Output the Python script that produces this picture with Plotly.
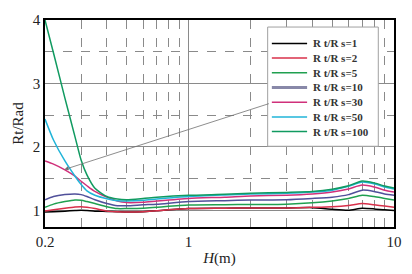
import math
import plotly.graph_objects as go

H = [0.2, 0.22, 0.25, 0.28, 0.3, 0.32, 0.35, 0.4, 0.45, 0.5, 0.6, 0.7, 1, 1.5, 2, 3, 4, 5, 6, 7, 8, 9, 10]

rs1 = [0.975, 0.98, 0.99, 1.0, 1.005, 1.0, 0.99, 0.985, 0.98, 0.975, 0.98, 0.995, 1.03, 1.035, 1.04, 1.04, 1.045, 1.02, 1.005, 1.035, 1.025, 1.01, 1.0]
rs2 = [0.99, 1.01, 1.035, 1.055, 1.06, 1.05, 1.03, 0.99, 0.98, 0.975, 0.98, 0.995, 1.03, 1.035, 1.04, 1.04, 1.05, 1.06, 1.08, 1.11, 1.09, 1.07, 1.05]
rs5 = [1.05, 1.1, 1.14, 1.165, 1.16, 1.14, 1.11, 1.06, 1.03, 1.03, 1.035, 1.05, 1.085, 1.09, 1.095, 1.1, 1.12, 1.15, 1.19, 1.24, 1.22, 1.19, 1.165]
rs10 = [1.17, 1.22, 1.25, 1.26, 1.25, 1.22, 1.17, 1.11, 1.075, 1.075, 1.09, 1.1, 1.14, 1.155, 1.165, 1.17, 1.19, 1.21, 1.25, 1.32, 1.3, 1.26, 1.24]
rs30 = [1.78, 1.73, 1.64, 1.54, 1.46, 1.39, 1.3, 1.21, 1.15, 1.125, 1.13, 1.15, 1.19, 1.21, 1.23, 1.24, 1.26, 1.29, 1.34, 1.4, 1.37, 1.32, 1.29]
rs50 = [2.44, 2.11, 1.78, 1.54, 1.41, 1.31, 1.24, 1.185, 1.155, 1.15, 1.16, 1.18, 1.22, 1.245, 1.26, 1.27, 1.29, 1.32, 1.38, 1.45, 1.42, 1.37, 1.34]
rs100 = [4.0, 3.48, 2.77, 2.16, 1.79, 1.56, 1.35, 1.22, 1.18, 1.17, 1.19, 1.21, 1.24, 1.255, 1.27, 1.285, 1.3, 1.335, 1.39, 1.465, 1.435, 1.385, 1.355]

names = ["R t/R s=1", "R t/R s=2", "R t/R s=5", "R t/R s=10", "R t/R s=30", "R t/R s=50", "R t/R s=100"]
series = [rs1, rs2, rs5, rs10, rs30, rs50, rs100]
colors = ["#000000", "#d8304a", "#20a050", "#50509a", "#d0307a", "#20b4d8", "#109a60"]

x_ticks = [0.2, 1, 10]
x_minor = [0.3, 0.4, 0.5, 0.6, 0.7, 0.8, 0.9, 2, 3, 4, 5, 6, 7, 8, 9]
y_ticks = [1, 2, 3, 4]
y_minor = [1.5, 2.5, 3.5]

serif = "Liberation Serif"
grid_col = "#8a8a8a"

fig = go.Figure()
for n, s, c in zip(names, series, colors):
    fig.add_trace(go.Scatter(x=H, y=s, name=n, mode="lines", showlegend=False,
                             line=dict(color=c, width=1.5, shape="spline", smoothing=0.6)))

fig.update_xaxes(type="log", range=[math.log10(0.2), 1], tickvals=x_ticks,
                 ticktext=["0.2", "1", "10"],
                 showgrid=True, gridcolor=grid_col, gridwidth=1,
                 minor=dict(tickvals=x_minor, showgrid=True, gridcolor=grid_col,
                            griddash="dash", gridwidth=1),
                 showline=True, linecolor="#000000", linewidth=1.5, mirror=True,
                 ticks="", tickfont=dict(family=serif, size=15, color="#222"),
                 title=dict(text="<i>H</i>(m)", font=dict(family=serif, size=15, color="#222"),
                            standoff=4),
                 zeroline=False)
fig.update_yaxes(range=[0.74, 4], tickvals=y_ticks, showgrid=True, gridcolor=grid_col,
                 gridwidth=1,
                 minor=dict(tickvals=y_minor, showgrid=True, gridcolor=grid_col,
                            griddash="dash", gridwidth=1),
                 showline=True, linecolor="#000000", linewidth=1.5, mirror=True,
                 ticks="", tickfont=dict(family=serif, size=15, color="#222"),
                 title=dict(text="Rt/Rad", font=dict(family=serif, size=15, color="#222"),
                            standoff=6),
                 zeroline=False)

# arrow from legend entry to curve
fig.add_annotation(x=math.log10(0.249), y=1.646, ax=math.log10(2.5), ay=2.69,
                   xref="x", yref="y", axref="x", ayref="y", text="",
                   showarrow=True, arrowhead=2, arrowsize=1, arrowwidth=0.8,
                   arrowcolor="#707070")

# hand-built legend box (plot-area paper coords)
box_x0, box_x1, box_y0, box_y1 = 0.638, 0.955, 0.390, 0.966
fig.add_shape(type="rect", xref="paper", yref="paper", x0=box_x0, x1=box_x1,
              y0=box_y0, y1=box_y1, fillcolor="white", line=dict(color="#a0a0a0", width=1),
              layer="above")
row_top, row_step = 0.887, 0.0710
key_x0, key_x1, txt_x = 0.650, 0.751, 0.762
for i, (n, c) in enumerate(zip(names, colors)):
    yy = row_top - i * row_step
    kc, kw = (c, 1.5) if i != 3 else ("#8888a8", 3)
    fig.add_shape(type="line", xref="paper", yref="paper", x0=key_x0, x1=key_x1,
                  y0=yy, y1=yy, line=dict(color=kc, width=kw), layer="above")
    fig.add_annotation(x=txt_x, y=yy, xref="paper", yref="paper", text="<b>" + n + "</b>",
                       showarrow=False, xanchor="left", yanchor="middle",
                       font=dict(family=serif, size=11, color="#333"))

fig.update_layout(
    width=412, height=274,
    margin=dict(l=45, r=10, t=20, b=42),
    paper_bgcolor="white", plot_bgcolor="white",
    showlegend=False,
)

fig.write_html("out.html", config={"displayModeBar": False},
               post_script="document.body.style.margin='0';")
